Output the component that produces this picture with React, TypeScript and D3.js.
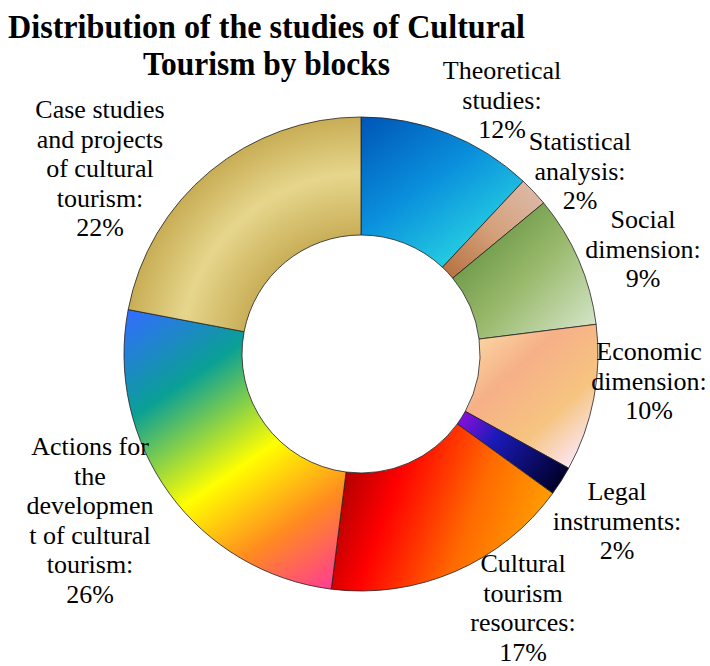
import React from "react";
import * as d3 from "d3";

// chart data
const categories = [
  "Theoretical studies",
  "Statistical analysis",
  "Social dimension",
  "Economic dimension",
  "Legal instruments",
  "Cultural tourism resources",
  "Actions for the development of cultural tourism",
  "Case studies and projects of cultural tourism",
];
const values = [12, 2, 9, 10, 2, 17, 26, 22];
const labelLines = [
  ["Theoretical", "studies:", "12%"],
  ["Statistical", "analysis:", "2%"],
  ["Social", "dimension:", "9%"],
  ["Economic", "dimension:", "10%"],
  ["Legal", "instruments:", "2%"],
  ["Cultural", "tourism", "resources:", "17%"],
  ["Actions for", "the", "developmen", "t of cultural", "tourism:", "26%"],
  ["Case studies", "and projects", "of cultural", "tourism:", "22%"],
];
// label anchor (centre x, first baseline) - layout only
const labelPos = [
  [502, 79], [580, 150], [643, 228], [649, 360],
  [617, 500], [523, 572], [90, 455], [100, 118],
];

const W = 710;
const H = 666;
const cx = 361;
const cy = 354;
const outerR = 237;
const innerR = 119;

// gradient fills per slice (page coords, shifted to the centre below)
const grads: any[] = [
  { type: "lin", c: [365, 120, 465, 265], s: [[0, "#0058b8"], [0.5, "#0a90dc"], [1, "#28d4e2"]] },
  { type: "lin", c: [530, 185, 445, 270], s: [[0, "#dcb8a6"], [0.5, "#d4a07a"], [1, "#b87444"]] },
  { type: "lin", c: [470, 210, 595, 330], s: [[0, "#5a8c3a"], [0.5, "#98b86a"], [1, "#d6e6ca"]] },
  { type: "lin", c: [470, 330, 585, 455], s: [[0, "#fbdca6"], [0.35, "#f6b088"], [0.7, "#f6c480"], [1, "#fbe6f4"]] },
  { type: "lin", c: [462, 410, 560, 485], s: [[0, "#9010dc"], [0.35, "#1a1ab8"], [1, "#000028"]] },
  { type: "lin", c: [335, 480, 555, 560], s: [[0, "#a80000"], [0.25, "#ff0000"], [0.6, "#ff6a00"], [1, "#ffb000"]] },
  { type: "lin", c: [140, 310, 330, 590], s: [[0, "#3070f8"], [0.25, "#0aa094"], [0.55, "#ffff00"], [0.78, "#ff8a20"], [1, "#ff3c94"]] },
  { type: "rad", s: [[0.5, "#c9ae58"], [0.76, "#e6d68c"], [1, "#c8ad55"]] },
];

const serif = "'Liberation Serif', 'Times New Roman', serif";

export default function App() {
  const pie = d3.pie<number>().sort(null).value((d) => d);
  const arcs = pie(values);
  const arc = d3.arc<d3.PieArcDatum<number>>().innerRadius(innerR).outerRadius(outerR);

  return (
    <svg width={W} height={H} style={{ position: "absolute", left: 0, top: 0 }}>
      <defs>
        {grads.map((g, i) =>
          g.type === "lin" ? (
            <linearGradient key={i} id={"g" + i} gradientUnits="userSpaceOnUse"
              x1={g.c[0] - cx} y1={g.c[1] - cy} x2={g.c[2] - cx} y2={g.c[3] - cy}>
              {g.s.map((st: any, j: number) => (
                <stop key={j} offset={st[0]} stopColor={st[1]} />
              ))}
            </linearGradient>
          ) : (
            <radialGradient key={i} id={"g" + i} gradientUnits="userSpaceOnUse"
              cx={0} cy={0} r={outerR}>
              {g.s.map((st: any, j: number) => (
                <stop key={j} offset={st[0]} stopColor={st[1]} />
              ))}
            </radialGradient>
          )
        )}
      </defs>
      <rect width={W} height={H} fill="#fff" />
      <g transform={`translate(${cx},${cy})`}>
        {arcs.map((a, i) => (
          <path key={categories[i]} d={arc(a) || ""}
            fill={`url(#g${i})`} stroke="#222" strokeWidth={0.8} />
        ))}
      </g>
      <g style={{ fontFamily: serif }} fontWeight="bold" fontSize={33} fill="#000">
        <text x={8} y={38} textLength={517} lengthAdjust="spacingAndGlyphs">
          Distribution of the studies of Cultural
        </text>
        <text x={143} y={75} textLength={247} lengthAdjust="spacingAndGlyphs">
          Tourism by blocks
        </text>
      </g>
      <g fontSize={26} fill="#000" textAnchor="middle">
        {labelLines.map((lines, i) => (
          <text key={"l" + i} x={labelPos[i][0]} y={labelPos[i][1]} style={{ fontFamily: serif }}>
            {lines.map((ln, j) => (
              <tspan key={j} x={labelPos[i][0]} dy={j === 0 ? 0 : 29.6}>{ln}</tspan>
            ))}
          </text>
        ))}
      </g>
    </svg>
  );
}
